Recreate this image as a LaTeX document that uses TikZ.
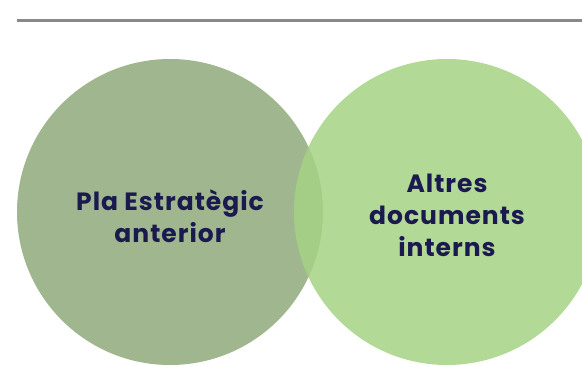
\documentclass[tikz,border=0pt]{standalone}
\usepackage{fontspec}
\setmainfont{Poppins}[LetterSpace=4]
\usepackage{tikz}

\definecolor{sage}{HTML}{9FB68F}
\definecolor{leaf}{HTML}{A6D285}
\definecolor{navy}{HTML}{1B1A4F}
\definecolor{rule}{HTML}{898989}

\tikzset{
    bubble/.style = {circle, minimum size = 306pt, inner sep = 0pt},
    bubbletext/.style = {align = center, text = navy,
                         font = \bfseries\fontsize{25}{32}\selectfont}
}

\begin{document}
\begin{tikzpicture}[x=1pt,y=1pt]
    \useasboundingbox (0,0) rectangle (582,365);

    % top rule
    \coordinate (rulel) at (17,344.3);
    \coordinate (ruler) at (582,344.3);
    \draw[rule, line width = 2.5pt] (rulel) -- (ruler);

    \node[bubble,
          fill = sage
          ] (pla) at (170,153) {};
    \node[bubbletext] at ([yshift=-4pt]pla.center) {Pla Estratègic\\anterior};

    \node[bubble,
          fill = leaf,
          fill opacity = 0.85
          ] (docs) at (447,153) {};
    \node[bubbletext] at ([yshift=-3pt]docs.center) {Altres\\documents\\interns};

\end{tikzpicture}
\end{document}
